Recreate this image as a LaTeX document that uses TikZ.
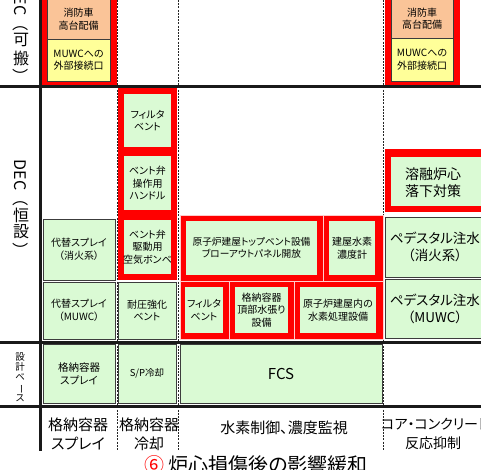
\documentclass[tikz,border=0pt]{standalone}
\usepackage{fontspec}
\usepackage{graphicx}
\setmainfont{Noto Sans CJK JP}[RawFeature=+palt]
\newfontfamily\vfont{Noto Sans CJK JP}
\usetikzlibrary{calc}
\definecolor{bgreen}{RGB}{218,250,212}
\definecolor{borange}{RGB}{250,196,152}
\definecolor{byellow}{RGB}{255,255,153}
\definecolor{edge}{RGB}{60,60,60}
\newcommand{\fszA}{\fontsize{10}{12.6}\selectfont}
\newcommand{\fszM}{\fontsize{9.7}{12.4}\selectfont}
\newcommand{\fszB}{\fontsize{10.5}{13}\selectfont}
\newcommand{\fszS}{\fontsize{9.5}{12}\selectfont}
\newcommand{\fszR}{\fontsize{13.5}{17}\selectfont}
\newcommand{\fszL}{\fontsize{15}{19}\selectfont}
% name, box style, x1, y1, x2, y2, font, text
\newcommand{\bx}[8]{%
  \path[#2] (#3,#4) rectangle (#5,#6);
  \node[inner sep=0, align=center, font=#7] (#1) at ({(#3+#5)/2},{(#4+#6)/2}) {#8};}
\tikzset{
  dline/.style={draw=black!85, line width=0.7pt, dash pattern=on 2pt off 1.2pt},
  thk/.style={draw=black!90, line width=3pt},
  gb/.style={fill=bgreen, draw=edge, line width=0.9pt},
  ib/.style={fill=bgreen},
  rd/.style={fill=red},
  rc/.style={fill=red, draw=white!80!red, line width=0.6pt},
  ob/.style={fill=borange, draw=edge, line width=0.8pt},
  yb/.style={fill=byellow, draw=edge, line width=0.8pt},
  vt/.style={inner sep=0, font=\vfont\fontsize{16}{16}\selectfont},
  txt/.style={inner sep=0, align=center}
}
\begin{document}
\begin{tikzpicture}[x=1pt,y=-1pt]
\useasboundingbox (0,0) rectangle (481,469);
\begin{scope}
\clip (0,0) rectangle (481,451);
% dashed column separators
\coordinate (d1t) at (117,0); \coordinate (d1b) at (117,451);
\coordinate (d2t) at (178,0); \coordinate (d2b) at (178,451);
\coordinate (d3t) at (383.5,0); \coordinate (d3b) at (383.5,451);
\draw[dline] (d1t) -- (d1b);
\draw[dline] (d2t) -- (d2b);
\draw[dline] (d3t) -- (d3b);

% DEC (portable) row
\path[rd] (41,-10) rectangle (117,85);
\bx{tl1}{ob}{47}{-1}{110}{39}{\fszA}{消防車\\高台配備}
\bx{tl2}{yb}{47}{39}{110}{81}{\fszA}{MUWCへの\\外部接続口}
\path[rd] (384.5,-10) rectangle (460,85);
\bx{tr1}{ob}{391}{-1}{453}{38}{\fszA}{消防車\\高台配備}
\bx{tr2}{yb}{391}{38}{453}{81}{\fszA}{MUWCへの\\外部接続口}

% DEC (permanent) row: column 2
\path[rd] (118,87.5) rectangle (177,280);
\bx{c2a}{ib}{124}{94}{171}{147}{\fszA}{フィルタ\\ベント}
\bx{c2b}{ib}{124}{156}{171}{210}{\fszA}{ベント弁\\操作用\\ハンドル}
\bx{c2c}{ib}{124}{220}{171}{274}{\fszA}{ベント弁\\駆動用\\空気ボンベ}

% column 1
\bx{l1}{gb}{43}{219}{115}{280}{\fszA}{代替スプレイ\\（消火系）}
\bx{l2}{gb}{43}{282}{115}{339}{\fszA}{代替スプレイ\\（MUWC）}
\bx{c2d}{gb}{118}{282}{176}{339}{\fszA}{耐圧強化\\ベント}

% column 3 (red cells)
\path[rc] (180,215) rectangle (323,281);
\path[rc] (323,215) rectangle (383,281);
\path[rc] (180,281) rectangle (229,339);
\path[rc] (229,281) rectangle (294,339);
\path[rc] (294,281) rectangle (383,339);
\bx{m1}{ib}{186}{221}{317}{275}{\fszM}{原子炉建屋トップベント設備\\ブローアウトパネル開放}
\bx{m2}{ib}{329}{221}{375}{275}{\fszA}{建屋水素\\濃度計}
\bx{m3}{ib}{185}{287}{223}{333}{\fszA}{フィルタ\\ベント}
\bx{m4}{ib}{235}{287}{288}{333}{\fszA}{格納容器\\頂部水張り\\設備}
\bx{m5}{ib}{300}{287}{376}{333}{\fszA}{原子炉建屋内の\\水素処理設備}

% column 4
\path[rd] (385,149) rectangle (495,212);
\path[ib] (391,157) rectangle (490,206);
\node[txt, font=\fontsize{14}{17}\selectfont] (r1) at (433,183) {溶融炉心\\落下対策};
\path[gb] (385,217) rectangle (495,277);
\node[txt, font=\fszR] (r2) at (435,247) {ペデスタル注水\\（消火系）};
\path[gb] (385,279) rectangle (495,338);
\node[txt, font=\fszR] (r3) at (435,309) {ペデスタル注水\\（MUWC）};

% design basis row
\bx{b1}{gb}{43}{344}{115}{403}{\fszB}{格納容器\\スプレイ}
\bx{b2}{gb}{118}{344}{176}{403}{\fszS}{S/P冷却}
\bx{b3}{gb}{180}{344}{382}{403}{\fontsize{15}{18}\selectfont}{FCS}

% row labels (vertical)
\node[vt] (v1a) at (21,8) {\rotatebox[origin=c]{-90}{DEC（}};
\node[vt] (v1b) at (21,40) {可};
\node[vt] (v1c) at (21,58) {搬};
\node[vt] (v1d) at (21,76) {\rotatebox[origin=c]{-90}{）}};
\node[vt] (v2a) at (21,183) {\rotatebox[origin=c]{-90}{DEC（}};
\node[vt] (v2b) at (21,215) {恒};
\node[vt] (v2c) at (21,232) {設};
\node[vt] (v2d) at (21,250) {\rotatebox[origin=c]{-90}{）}};
\node[txt, font=\vfont\fontsize{9.5}{10.2}\selectfont] (v3) at (20,377)
  {設\\計\\ベ\\\rotatebox[origin=c]{-90}{ー}\\ス};

% bottom labels
\node[txt, font=\fszL] (f1) at (78,434) {格納容器\\スプレイ};
\node[txt, font=\fszL] (f2) at (149,434) {格納容器\\冷却};
\node[txt, font=\fszL] (f3) at (284,428) {水素制御、濃度監視};
\node[txt, font=\fontsize{14}{19}\selectfont, anchor=west] (f4a) at (381,424) {コア・コンクリート};
\node[txt, font=\fontsize{14}{19}\selectfont] (f4b) at (433,443.5) {反応抑制};

% thick grid lines
\draw[thk] (0,86) -- (481,86);
\draw[thk] (0,342) -- (481,342);
\draw[thk] (0,406) -- (481,406);
\draw[thk] (40,-5) -- (40,451);
\end{scope}
% caption (cut by page edge)
\node[inner sep=0, anchor=north, font=\fontsize{20}{24}\selectfont] (title) at (256,455)
  {\textcolor{red}{⑥} 炉心損傷後の影響緩和};
\end{tikzpicture}
\end{document}
